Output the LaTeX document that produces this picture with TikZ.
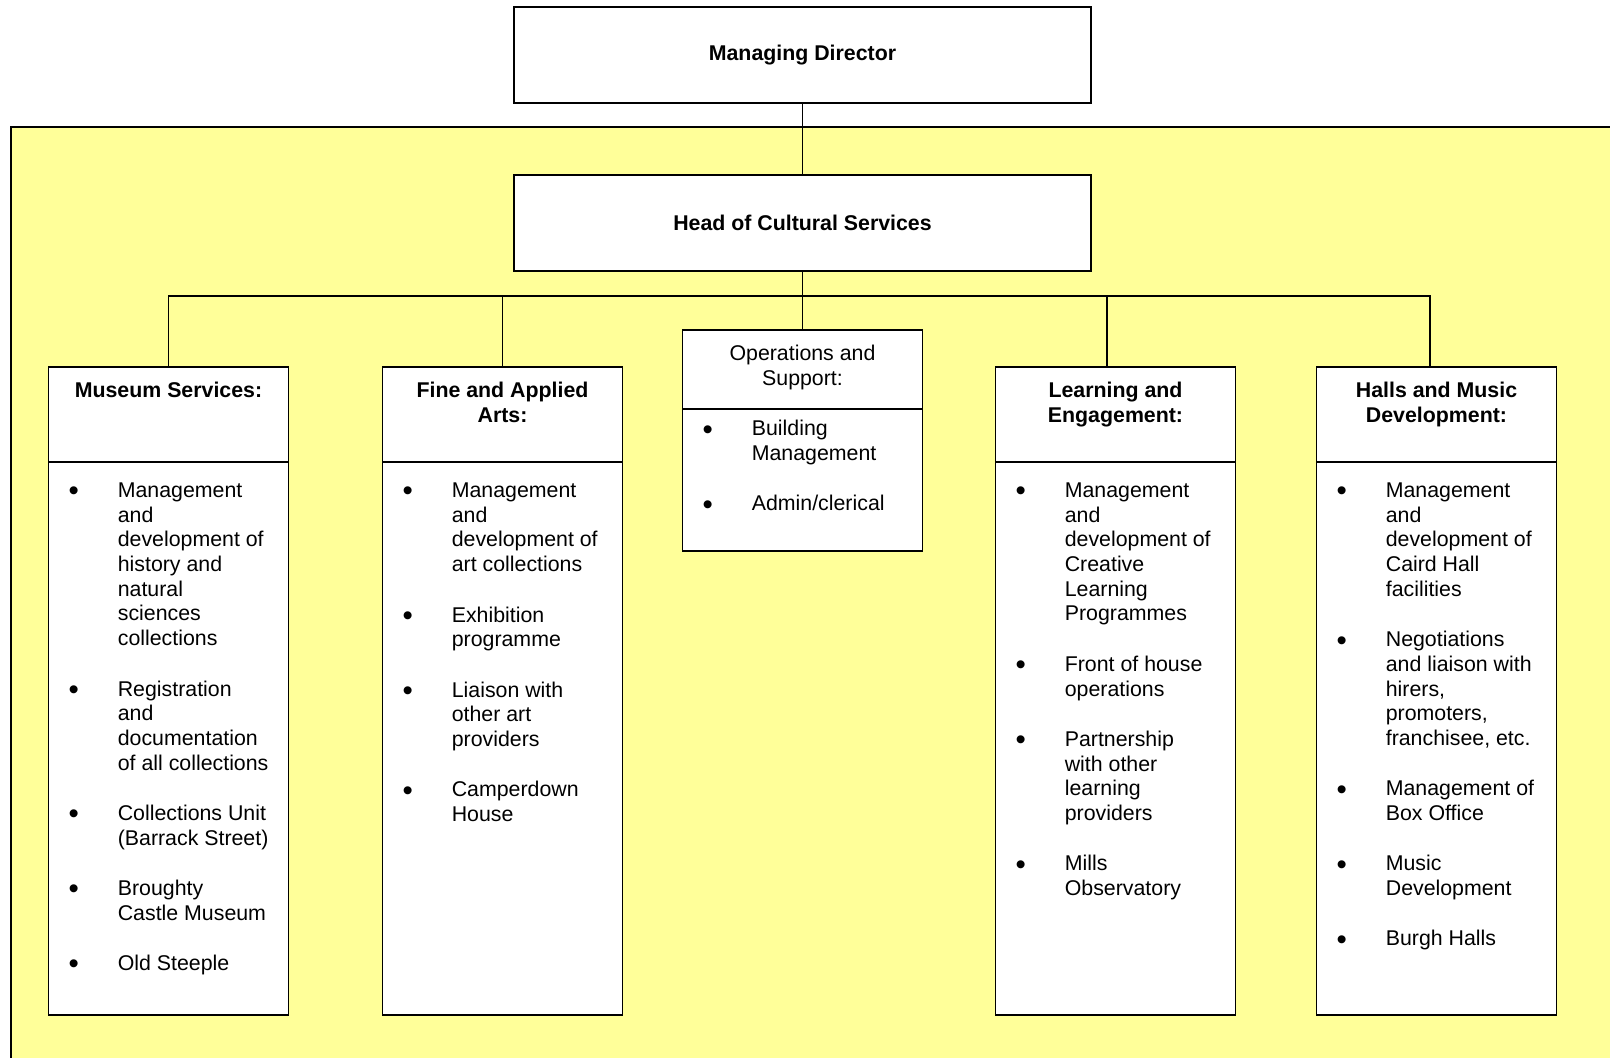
\documentclass[tikz,border=0pt]{standalone}
\usepackage{fontspec}
\setmainfont{Liberation Sans}
\usetikzlibrary{positioning}
\definecolor{paleyellow}{RGB}{255,255,153}

% header text: top aligned, first baseline 23pt below the top
\newcommand{\headtxt}[2]{\parbox[c][#1][t]{180pt}{\centering\rule{0pt}{23pt}#2}}
% body text: top gap, then the bullet items
\newcommand{\bodytxt}[3]{\parbox[c][#1][t]{180pt}{\parindent=0pt\vspace*{#2}#3}}
\newcommand{\blt}{\raisebox{-2.5pt}{\fontsize{22pt}{0pt}\selectfont\textbullet}}
\newcommand{\itm}[1]{\par\noindent\hangindent=52pt\makebox[52pt][l]{\hspace{15pt}\blt}\rule{0pt}{12pt}#1\par\vspace{19.3pt}}

\begin{document}
\begin{tikzpicture}[x=0.75pt, y=-0.75pt, font=\fontsize{16pt}{18.5pt}\selectfont,
  topbox/.style={draw, fill=white, line width=1.3pt, minimum width=432.75pt, minimum height=72pt,
    font=\fontsize{16pt}{18.5pt}\selectfont\bfseries},
  headbox/.style={draw, fill=white, line width=1.3pt, inner sep=0pt, outer sep=0pt, anchor=north},
  bodybox/.style={draw, fill=white, line width=1.3pt, inner sep=0pt, outer sep=0pt},
  conn/.style={line width=1.4pt}]
\useasboundingbox (0,0) rectangle (1610,1057);
\clip (0,0) rectangle (1610,1057);
% yellow area
\fill[paleyellow, draw=black, line width=1.3pt] (11,127) rectangle (1660,1100);
\node[topbox] (mdir) at (802.5,55) {Managing Director};
\node[topbox] (hcs) at (802.5,223) {Head of Cultural Services};
\coordinate (bus) at (802.5,296);
% columns
\node[headbox] (muse) at (168.5,367) {\headtxt{71.25pt}{\bfseries Museum Services:}};
\node[bodybox, below=0pt of muse] (musebody) {\bodytxt{414.75pt}{14.7pt}{%
  \itm{Management\\and\\development of\\history and\\natural\\sciences\\collections}
  \itm{Registration\\and\\documentation\\of all collections}
  \itm{Collections Unit\\(Barrack Street)}
  \itm{Broughty\\Castle Museum}
  \itm{Old Steeple}}};
\node[headbox] (fine) at (502.5,367) {\headtxt{71.25pt}{\bfseries Fine and Applied\\Arts:}};
\node[bodybox, below=0pt of fine] (finebody) {\bodytxt{414.75pt}{14.7pt}{%
  \itm{Management\\and\\development of\\art collections}
  \itm{Exhibition\\programme}
  \itm{Liaison with\\other art\\providers}
  \itm{Camperdown\\House}}};
\node[headbox] (ops) at (802.5,330) {\headtxt{59.25pt}{Operations and\\Support:}};
\node[bodybox, below=0pt of ops] (opsbody) {\bodytxt{106.5pt}{8pt}{%
  \itm{Building\\Management}
  \itm{Admin/clerical}}};
\node[headbox] (learn) at (1115.5,367) {\headtxt{71.25pt}{\bfseries Learning and\\Engagement:}};
\node[bodybox, below=0pt of learn] (learnbody) {\bodytxt{414.75pt}{14.7pt}{%
  \itm{Management\\and\\development of\\Creative\\Learning\\Programmes}
  \itm{Front of house\\operations}
  \itm{Partnership\\with other\\learning\\providers}
  \itm{Mills\\Observatory}}};
\node[headbox] (halls) at (1436.5,367) {\headtxt{71.25pt}{\bfseries Halls and Music\\Development:}};
\node[bodybox, below=0pt of halls] (hallsbody) {\bodytxt{414.75pt}{14.7pt}{%
  \itm{Management\\and\\development of\\Caird Hall\\facilities}
  \itm{Negotiations\\and liaison with\\hirers,\\promoters,\\franchisee, etc.}
  \itm{Management of\\Box Office}
  \itm{Music\\Development}
  \itm{Burgh Halls}}};
% connectors
\draw[conn] (mdir) -- (hcs);
\draw[conn] (hcs) -- (ops);
\draw[conn] (muse.north) |- (bus) -| ([xshift=-4.9pt]halls.north);
\draw[conn] (fine.north) -- (fine.north |- bus);
\coordinate (learntop) at ([xshift=-6.6pt]learn.north);
\draw[conn] (learntop) -- (learntop |- bus);
\end{tikzpicture}
\end{document}
